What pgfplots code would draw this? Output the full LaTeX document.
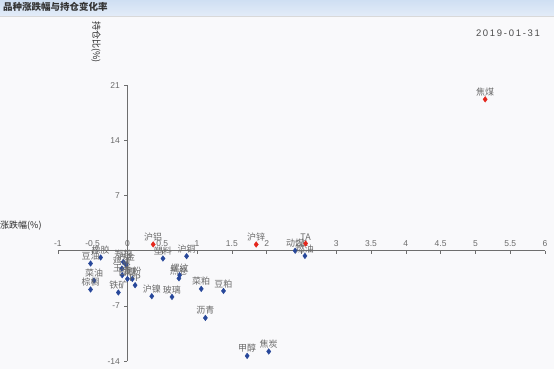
\documentclass[border=0pt]{standalone}
\usepackage{fontspec}
\usepackage{pgfplots}
\usepackage{pgfplotstable}
\pgfplotsset{compat=1.18}
\setmainfont{Liberation Sans}
\newfontfamily\cjk{Noto Sans CJK SC}
\newfontfamily\datefont[LetterSpace=18]{Liberation Sans}
\definecolor{bgcol}{HTML}{F9F9FB}
\definecolor{bartop}{HTML}{CFDFF3}
\definecolor{barbot}{HTML}{E3ECF8}
\definecolor{ptblue}{HTML}{27479A}
\definecolor{ptred}{HTML}{E4261C}
\definecolor{lblgray}{HTML}{6A6A6A}
\definecolor{axgray}{HTML}{6E6E6E}

\pgfplotstableread{
x y label
5.14 19.2 焦煤
0.37 0.80 沪铝
1.85 0.79 沪锌
2.56 0.91 TA
}\reddata

\pgfplotstableread{
x y label
2.41 0.00 动煤
2.55 -0.66 燃油
2.03 -12.78 焦炭
1.72 -13.34 甲醇
1.12 -8.52 沥青
1.38 -5.10 豆粕
1.06 -4.84 菜粕
0.64 -5.86 玻璃
0.35 -5.77 沪镍
0.85 -0.70 沪铜
0.51 -0.99 塑料
0.75 -3.10 螺纹
0.74 -3.50 热卷
-0.385 -0.86 橡胶
-0.53 -1.62 豆油
-0.48 -3.78 菜油
-0.53 -4.92 棕榈
-0.13 -5.30 铁矿
-0.06 -1.42 郑棉
-0.02 -1.75 沪金
-0.08 -2.26 鸡蛋
-0.075 -3.10 玉米
0.00 -3.58 白糖
0.07 -3.58 淀粉
0.11 -4.37 PP
}\bluedata

\begin{document}
\begin{tikzpicture}[x=1pt,y=1pt]
\useasboundingbox (0,0) rectangle (554,369);
\fill[bgcol] (0,0) rectangle (554,369);
\shade[top color=bartop, bottom color=barbot] (0,353) rectangle (554,369);
\draw[white!85!black, line width=0.5pt] (0,353) -- (554,353);
\node[anchor=west, inner sep=0pt, text=black!80] at (3,362) {\cjk\fontsize{9.5}{9.5}\selectfont\bfseries 品种涨跌幅与持仓变化率};
\node[anchor=center, inner sep=0pt, text=black!70] at (508,336) {\datefont\fontsize{9.5}{10}\selectfont 2019-01-31};
\node[rotate=-90, inner sep=0pt, text=black!85] at (96,327) {\cjk\fontsize{9}{9}\selectfont 持仓比(\%)};
\node[anchor=west, inner sep=0pt, text=black!85] at (0,143) {\cjk\fontsize{9}{9}\selectfont 涨跌幅(\%)};
\begin{axis}[
  at={(83.1,10)}, anchor=south west,
  scale only axis, width=487.2pt, height=276pt,
  xmin=-1, xmax=6, ymin=-14, ymax=21,
  axis lines=center,
  axis line style={-, draw=axgray, line width=1pt},
  hide obscured x ticks=false,
  hide obscured y ticks=false,
  xtick={-1,-0.5,0,0.5,1,1.5,2,2.5,3,3.5,4,4.5,5,5.5,6},
  ytick={-14,-7,7,14,21},
  tick style={draw=axgray, line width=0.6pt},
  major tick length=3pt,
  tick align=outside,
  /pgf/number format/assume math mode=true,
  /pgf/number format/.cd, fixed, precision=1,
  /pgfplots/.cd,
  ticklabel style={font=\fontsize{8.5}{8.5}\selectfont, text=lblgray},
  xticklabel style={anchor=south, yshift=3.5pt},
  yticklabel style={anchor=east, xshift=-1pt},
  clip=false,
]
\addplot[only marks, mark=diamond*, mark size=2.8pt, color=ptblue,
  nodes near coords, point meta=explicit symbolic,
  nodes near coords style={font=\cjk\fontsize{9}{9}\selectfont, text=lblgray, anchor=south, inner sep=0pt, yshift=3pt}]
  table[x=x, y=y, meta=label] {\bluedata};
\addplot[only marks, mark=diamond*, mark size=2.8pt, color=ptred,
  nodes near coords, point meta=explicit symbolic,
  nodes near coords style={font=\cjk\fontsize{9}{9}\selectfont, text=lblgray, anchor=south, inner sep=0pt, yshift=3pt}]
  table[x=x, y=y, meta=label] {\reddata};
\end{axis}
\end{tikzpicture}
\end{document}
